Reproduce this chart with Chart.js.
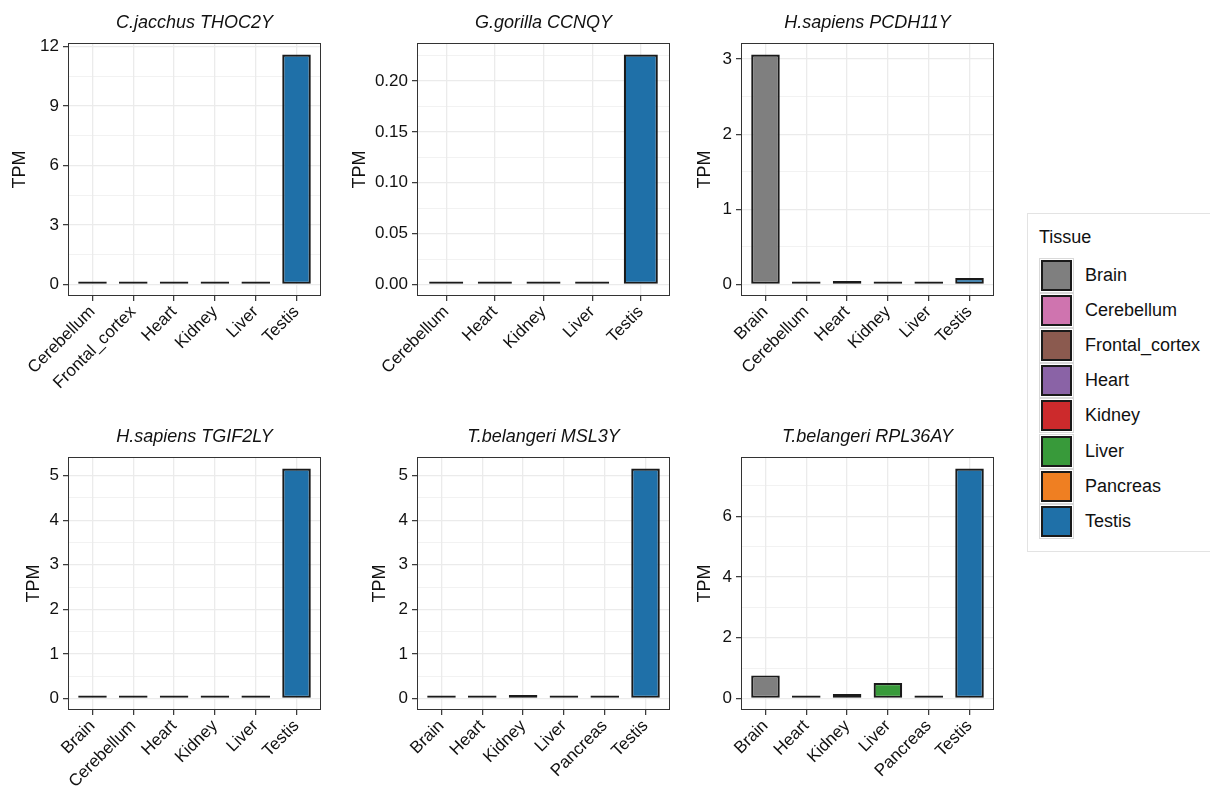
<!DOCTYPE html>
<html>
<head>
<meta charset="utf-8">
<script src="https://cdn.jsdelivr.net/npm/chart.js@4.4.1/dist/chart.umd.min.js"></script>
<style>
  html, body { margin: 0; padding: 0; background: #fff; }
  body { width: 1210px; height: 794px; position: relative; overflow: hidden;
         font-family: "Liberation Sans", Arial, sans-serif; }
  .panel { position: absolute; }
  .legend { position: absolute; left: 1027px; top: 213px; width: 200px; height: 339px;
            border: 1px solid #e3e3e3; box-sizing: border-box; }
  .legend .ttl { position: absolute; left: 11px; top: 13px; font-size: 18px; color: #111; }
  .legend .row { position: absolute; left: 11px; height: 35px; width: 190px; }
  .legend .key { position: absolute; left: 0; top: 0; width: 35px; height: 35px;
                 box-sizing: border-box; border: 1px solid #d9d9d9; }
  .legend .sw { position: absolute; left: 1px; top: 1px; right: 1px; bottom: 1px;
                box-sizing: border-box; border: 2px solid #1a1a1a; }
  .legend .lab { position: absolute; left: 46px; top: 7px; font-size: 18px; color: #111; white-space: nowrap; }
</style>
</head>
<body>
<div id="wrap"></div>
<div class="legend" id="legend"></div>
<script>
// Tissue palette shared by all panels and the legend
const tissues = ['Brain', 'Cerebellum', 'Frontal_cortex', 'Heart', 'Kidney', 'Liver', 'Pancreas', 'Testis'];
const tissueColors = ['#7f7f7f', '#cf74af', '#8b5a4f', '#8a63a6', '#cc2a2c', '#389a3a', '#ef7f22', '#1f70a8'];

// C.jacchus THOC2Y
const cjTissues = ['Cerebellum', 'Frontal_cortex', 'Heart', 'Kidney', 'Liver', 'Testis'];
const cjTPM = [0.005, 0.005, 0.005, 0.005, 0.03, 11.6];
const cjTicks = [0, 3, 6, 9, 12];
const cjTickLabels = ['0', '3', '6', '9', '12'];

// G.gorilla CCNQY
const ggTissues = ['Cerebellum', 'Heart', 'Kidney', 'Liver', 'Testis'];
const ggTPM = [0.0002, 0.0002, 0.0002, 0.0002, 0.226];
const ggTicks = [0, 0.05, 0.10, 0.15, 0.20];
const ggTickLabels = ['0.00', '0.05', '0.10', '0.15', '0.20'];

// H.sapiens PCDH11Y
const hpTissues = ['Brain', 'Cerebellum', 'Heart', 'Kidney', 'Liver', 'Testis'];
const hpTPM = [3.06, 0.04, 0.045, 0.03, 0.005, 0.085];
const hpTicks = [0, 1, 2, 3];
const hpTickLabels = ['0', '1', '2', '3'];

// H.sapiens TGIF2LY
const htTissues = ['Brain', 'Cerebellum', 'Heart', 'Kidney', 'Liver', 'Testis'];
const htTPM = [0.002, 0.002, 0.002, 0.002, 0.002, 5.16];
const htTicks = [0, 1, 2, 3, 4, 5];
const htTickLabels = ['0', '1', '2', '3', '4', '5'];

// T.belangeri MSL3Y
const tmTissues = ['Brain', 'Heart', 'Kidney', 'Liver', 'Pancreas', 'Testis'];
const tmTPM = [0.005, 0.005, 0.08, 0.045, 0.005, 5.16];
const tmTicks = [0, 1, 2, 3, 4, 5];
const tmTickLabels = ['0', '1', '2', '3', '4', '5'];

// T.belangeri RPL36AY
const trTissues = ['Brain', 'Heart', 'Kidney', 'Liver', 'Pancreas', 'Testis'];
const trTPM = [0.76, 0.01, 0.15, 0.51, 0.01, 7.57];
const trTicks = [0, 2, 4, 6];
const trTickLabels = ['0', '2', '4', '6'];

Chart.defaults.font.family = '"Liberation Sans", Arial, sans-serif';
Chart.defaults.animation = false;

const TEXT = '#111111';
const GRID = '#ebebeb';

// Panel frame and facet title drawn around the plotting area
const panelFrame = {
  id: 'panelFrame',
  afterDatasetsDraw(chart, args, opts) {
    const { ctx, chartArea: a } = chart;
    ctx.save();
    ctx.strokeStyle = '#333333';
    ctx.lineWidth = 1;
    ctx.strokeRect(a.left + 0.5, a.top + 0.5, a.right - a.left - 1, a.bottom - a.top - 1);
    ctx.restore();
  },
  afterDraw(chart, args, opts) {
    const { ctx, chartArea: a } = chart;
    ctx.save();
    ctx.font = 'italic 18px "Liberation Sans", Arial, sans-serif';
    ctx.fillStyle = '#111';
    ctx.textAlign = 'center';
    ctx.textBaseline = 'middle';
    ctx.fillText(opts.text, (a.left + a.right) / 2, a.top - 20);
    ctx.restore();
  }
};

function makePanel(box, title, cats, values, ticks, tickLabels) {
  const holder = document.createElement('div');
  holder.className = 'panel';
  holder.style.left = box.x + 'px';
  holder.style.top = box.y + 'px';
  holder.style.width = box.w + 'px';
  holder.style.height = box.h + 'px';
  const cv = document.createElement('canvas');
  cv.width = box.w; cv.height = box.h;
  holder.appendChild(cv);
  document.getElementById('wrap').appendChild(holder);

  const n = cats.length;
  const ymax = Math.max(...values);
  const lo = -0.05 * ymax, hi = 1.05 * ymax;
  const half = (ticks[1] - ticks[0]) / 2;
  const gridVals = [];
  for (let k = 0; k * half <= hi + 1e-12; k++) gridVals.push(k * half);
  const majorIdx = v => ticks.findIndex(t => Math.abs(t - v) < half * 1e-3);
  const isMajor = v => majorIdx(v) >= 0;

  new Chart(cv, {
    type: 'bar',
    data: {
      datasets: [{
        data: values.map((v, i) => ({ x: i, y: v })),
        backgroundColor: cats.map(c => tissueColors[tissues.indexOf(c)]),
        borderColor: '#1a1a1a',
        borderWidth: 2.2,
        borderSkipped: false,
        minBarLength: 3,
        categoryPercentage: 1,
        barPercentage: 0.7
      }]
    },
    options: {
      responsive: false,
      maintainAspectRatio: false,
      layout: { padding: { top: box.top, right: box.w - box.right, bottom: 0, left: box.padL } },
      plugins: {
        legend: { display: false },
        tooltip: { enabled: false },
        panelFrame: { text: title }
      },
      scales: {
        x: {
          type: 'linear',
          offset: false,
          min: -0.6,
          max: n - 0.4,
          afterBuildTicks: s => { s.ticks = cats.map((c, i) => ({ value: i })); },
          afterFit: s => { s.height = box.h - box.bottom; s.paddingLeft = 0; s.paddingRight = 0; },
          ticks: {
            autoSkip: false, minRotation: 45, maxRotation: 45,
            callback: v => cats[v],
            font: { size: 17 }, color: TEXT, padding: 1
          },
          grid: { offset: false, color: GRID, lineWidth: 1.3, tickColor: '#333', tickLength: 5, tickWidth: 1.2 },
          border: { display: false }
        },
        y: {
          min: lo,
          max: hi,
          afterBuildTicks: s => { s.ticks = gridVals.map(v => ({ value: v })); },
          afterFit: s => { s.width = box.left - box.padL; s.paddingTop = 0; s.paddingBottom = 0; },
          ticks: {
            callback: v => { const k = majorIdx(v); return k >= 0 ? tickLabels[k] : ''; },
            font: { size: 17 }, color: TEXT, padding: 4
          },
          grid: {
            color: GRID,
            lineWidth: c => isMajor(c.tick.value) ? 1.3 : 0.65,
            tickColor: c => isMajor(c.tick.value) ? '#333' : 'rgba(0,0,0,0)',
            tickLength: 5, tickWidth: 1.2
          },
          border: { display: false },
          title: { display: true, text: 'TPM', font: { size: 18 }, color: TEXT, padding: 0 }
        }
      }
    },
    plugins: [panelFrame]
  });
}

// Panel boxes: canvas placement plus plotting-area edges inside each canvas
makePanel({ x: 0,   y: 0,   w: 335, h: 400, left: 68, right: 321, top: 43, bottom: 296, padL: 9 },
          'C.jacchus THOC2Y', cjTissues, cjTPM, cjTicks, cjTickLabels);
makePanel({ x: 335, y: 0,   w: 345, h: 400, left: 82, right: 335, top: 43, bottom: 296, padL: 14 },
          'G.gorilla CCNQY', ggTissues, ggTPM, ggTicks, ggTickLabels);
makePanel({ x: 680, y: 0,   w: 330, h: 400, left: 61, right: 314, top: 43, bottom: 296, padL: 14 },
          'H.sapiens PCDH11Y', hpTissues, hpTPM, hpTicks, hpTickLabels);
makePanel({ x: 0,   y: 400, w: 335, h: 394, left: 68, right: 321, top: 57, bottom: 310, padL: 23 },
          'H.sapiens TGIF2LY', htTissues, htTPM, htTicks, htTickLabels);
makePanel({ x: 335, y: 400, w: 345, h: 394, left: 82, right: 335, top: 57, bottom: 310, padL: 34 },
          'T.belangeri MSL3Y', tmTissues, tmTPM, tmTicks, tmTickLabels);
makePanel({ x: 680, y: 400, w: 330, h: 394, left: 61, right: 314, top: 57, bottom: 310, padL: 14 },
          'T.belangeri RPL36AY', trTissues, trTPM, trTicks, trTickLabels);

// Legend
const lg = document.getElementById('legend');
const t = document.createElement('div');
t.className = 'ttl'; t.textContent = 'Tissue';
lg.appendChild(t);
tissues.forEach((name, i) => {
  const row = document.createElement('div');
  row.className = 'row';
  row.style.top = (44 + i * 35.1) + 'px';
  const key = document.createElement('div'); key.className = 'key';
  const sw = document.createElement('div'); sw.className = 'sw'; sw.style.background = tissueColors[i];
  key.appendChild(sw);
  const lab = document.createElement('div'); lab.className = 'lab'; lab.textContent = name;
  row.appendChild(key); row.appendChild(lab);
  lg.appendChild(row);
});
</script>
</body>
</html>
